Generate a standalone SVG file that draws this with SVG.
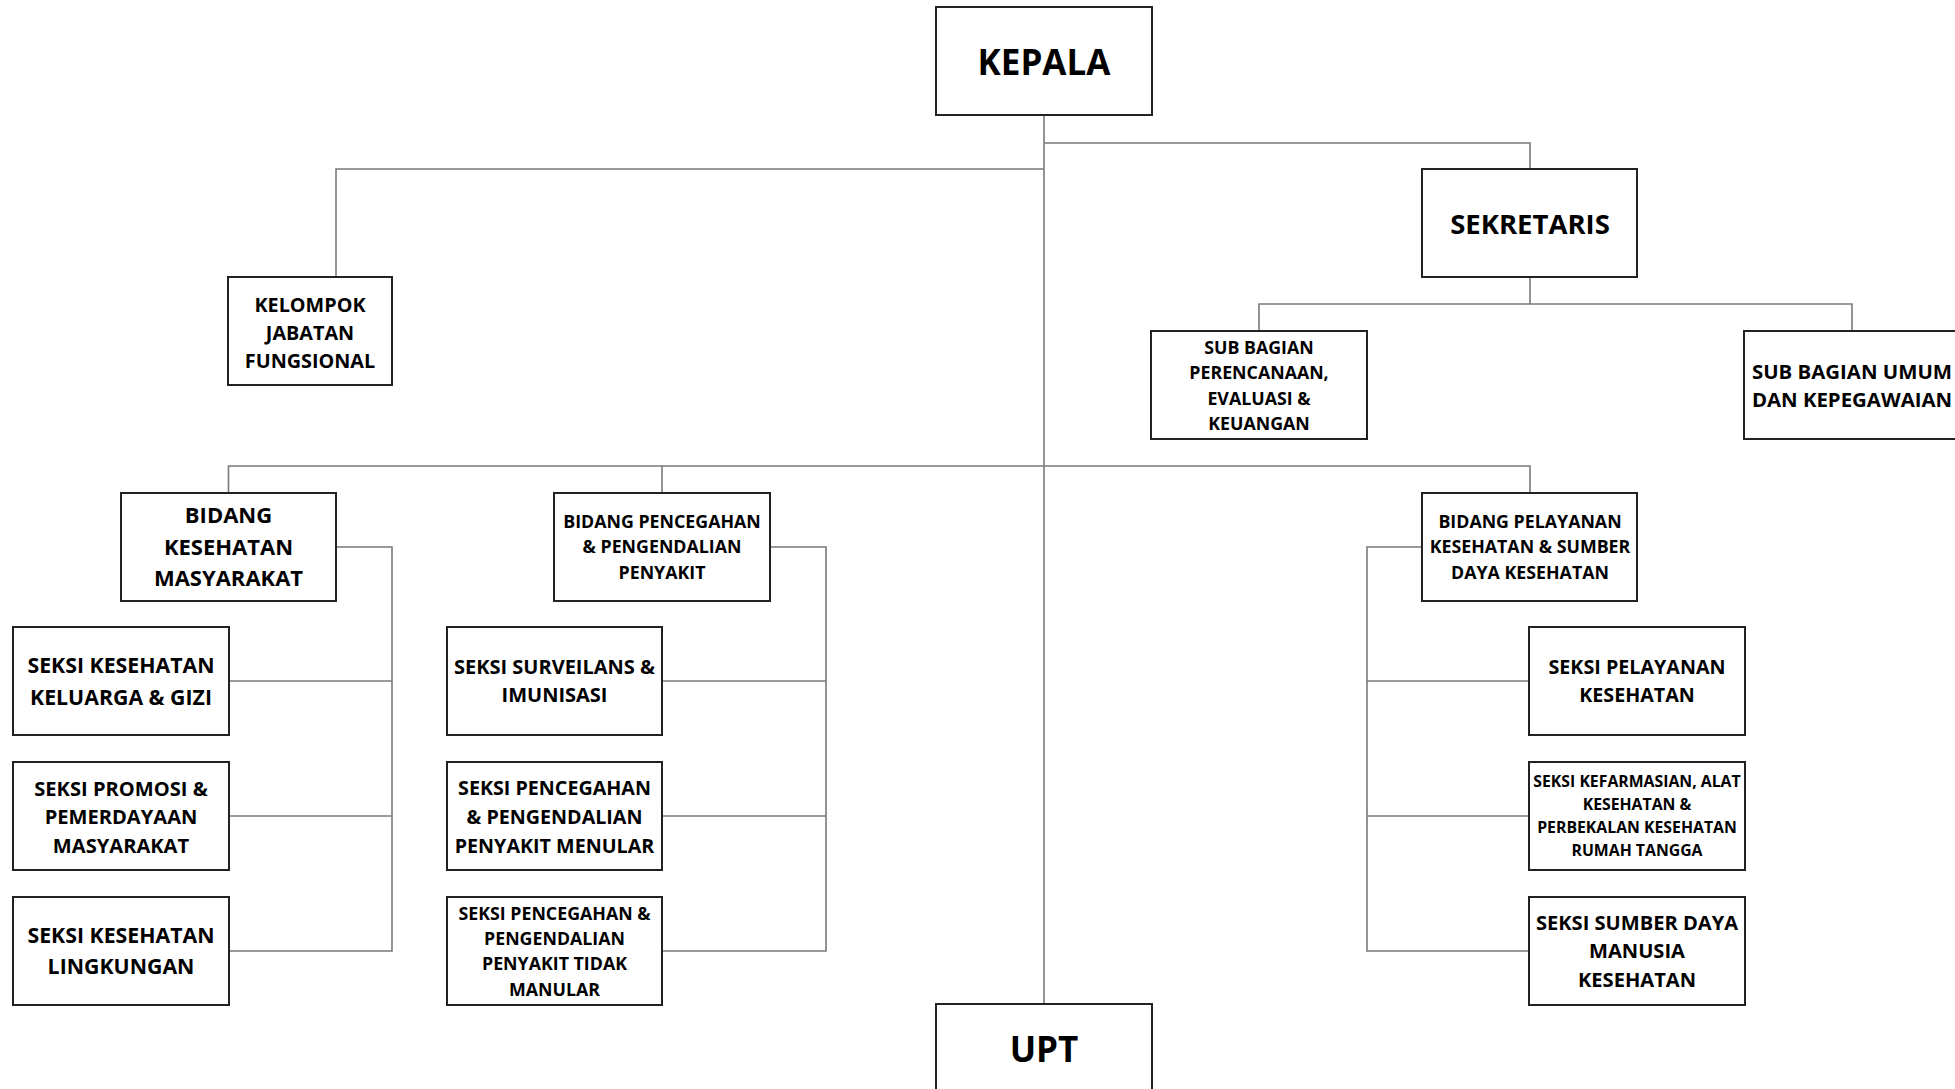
<svg xmlns="http://www.w3.org/2000/svg" width="1955" height="1089" viewBox="0 0 1955 1089">
<style>
.box{fill:#fff;stroke:#222;stroke-width:2}
.con{fill:none;stroke:#7a7a7a;stroke-width:1.6}
text{font-family:"Open Sans","Noto Sans","Liberation Sans",sans-serif;font-weight:700;fill:#000;text-anchor:middle}
</style>
<rect width="1955" height="1089" fill="#fff"/>
<g id="connectors">
<path class="con" d="M1044 115V1004"/>
<path class="con" d="M1044 143H1530V169"/>
<path class="con" d="M1044 169H336V277"/>
<path class="con" d="M1530 277V304"/>
<path class="con" d="M1259 331V304H1852V331"/>
<path class="con" d="M228.5 493V466H1530V493"/>
<path class="con" d="M662 466V493"/>
<path class="con" d="M336 547H392V951H229"/>
<path class="con" d="M229 681H392"/>
<path class="con" d="M229 816H392"/>
<path class="con" d="M770 547H826V951H662"/>
<path class="con" d="M662 681H826"/>
<path class="con" d="M662 816H826"/>
<path class="con" d="M1422 547H1367V951H1529"/>
<path class="con" d="M1367 681H1529"/>
<path class="con" d="M1367 816H1529"/>
</g>
<g id="kepala"><rect class="box" x="936" y="7" width="216" height="108"/><text x="1044" y="75" font-size="35">KEPALA</text></g>
<g id="upt"><rect class="box" x="936" y="1004" width="216" height="100"/><text x="1044" y="1062" font-size="35">UPT</text></g>
<g id="sekretaris"><rect class="box" x="1422" y="169" width="215" height="108"/><text x="1530" y="234" font-size="27.5">SEKRETARIS</text></g>
<g id="kelompok"><rect class="box" x="228" y="277" width="164" height="108"/><text font-size="19.8"><tspan x="310" y="312">KELOMPOK</tspan><tspan x="310" y="340">JABATAN</tspan><tspan x="310" y="368">FUNGSIONAL</tspan></text></g>
<g id="subbag-perencanaan"><rect class="box" x="1151" y="331" width="216" height="108"/><text font-size="17.8"><tspan x="1259" y="354">SUB BAGIAN</tspan><tspan x="1259" y="379">PERENCANAAN,</tspan><tspan x="1259" y="404.5">EVALUASI &amp;</tspan><tspan x="1259" y="430">KEUANGAN</tspan></text></g>
<g id="subbag-umum"><rect class="box" x="1744" y="331" width="216" height="108"/><text font-size="20.4"><tspan x="1852" y="379">SUB BAGIAN UMUM</tspan><tspan x="1852" y="407">DAN KEPEGAWAIAN</tspan></text></g>
<g id="bidang-kesmas"><rect class="box" x="121" y="493" width="215" height="108"/><text font-size="22"><tspan x="228.5" y="523">BIDANG</tspan><tspan x="228.5" y="555">KESEHATAN</tspan><tspan x="228.5" y="586">MASYARAKAT</tspan></text></g>
<g id="bidang-p2p"><rect class="box" x="554" y="493" width="216" height="108"/><text font-size="17.8"><tspan x="662" y="528">BIDANG PENCEGAHAN</tspan><tspan x="662" y="553">&amp; PENGENDALIAN</tspan><tspan x="662" y="579">PENYAKIT</tspan></text></g>
<g id="bidang-yankes"><rect class="box" x="1422" y="493" width="215" height="108"/><text font-size="17.8"><tspan x="1530" y="528">BIDANG PELAYANAN</tspan><tspan x="1530" y="553">KESEHATAN &amp; SUMBER</tspan><tspan x="1530" y="579">DAYA KESEHATAN</tspan></text></g>
<g id="seksi-kesga"><rect class="box" x="13" y="627" width="216" height="108"/><text font-size="21.3"><tspan x="121" y="673">SEKSI KESEHATAN</tspan><tspan x="121" y="705">KELUARGA &amp; GIZI</tspan></text></g>
<g id="seksi-promosi"><rect class="box" x="13" y="762" width="216" height="108"/><text font-size="20.1"><tspan x="121" y="796">SEKSI PROMOSI &amp;</tspan><tspan x="121" y="824">PEMERDAYAAN</tspan><tspan x="121" y="853">MASYARAKAT</tspan></text></g>
<g id="seksi-kesling"><rect class="box" x="13" y="897" width="216" height="108"/><text font-size="21.3"><tspan x="121" y="943">SEKSI KESEHATAN</tspan><tspan x="121" y="974">LINGKUNGAN</tspan></text></g>
<g id="seksi-surveilans"><rect class="box" x="447" y="627" width="215" height="108"/><text font-size="20"><tspan x="554.5" y="674">SEKSI SURVEILANS &amp;</tspan><tspan x="554.5" y="702">IMUNISASI</tspan></text></g>
<g id="seksi-p2pm"><rect class="box" x="447" y="762" width="215" height="108"/><text font-size="19.7"><tspan x="554.5" y="795">SEKSI PENCEGAHAN</tspan><tspan x="554.5" y="824">&amp; PENGENDALIAN</tspan><tspan x="554.5" y="853">PENYAKIT MENULAR</tspan></text></g>
<g id="seksi-p2ptm"><rect class="box" x="447" y="897" width="215" height="108"/><text font-size="17.8"><tspan x="554.5" y="920">SEKSI PENCEGAHAN &amp;</tspan><tspan x="554.5" y="945">PENGENDALIAN</tspan><tspan x="554.5" y="970">PENYAKIT TIDAK</tspan><tspan x="554.5" y="996">MANULAR</tspan></text></g>
<g id="seksi-yankes"><rect class="box" x="1529" y="627" width="216" height="108"/><text font-size="19.7"><tspan x="1637" y="674">SEKSI PELAYANAN</tspan><tspan x="1637" y="702">KESEHATAN</tspan></text></g>
<g id="seksi-farmasi"><rect class="box" x="1529" y="762" width="216" height="108"/><text font-size="15.8"><tspan x="1637" y="787">SEKSI KEFARMASIAN, ALAT</tspan><tspan x="1637" y="810">KESEHATAN &amp;</tspan><tspan x="1637" y="833">PERBEKALAN KESEHATAN</tspan><tspan x="1637" y="856">RUMAH TANGGA</tspan></text></g>
<g id="seksi-sdmk"><rect class="box" x="1529" y="897" width="216" height="108"/><text font-size="20.1"><tspan x="1637" y="930">SEKSI SUMBER DAYA</tspan><tspan x="1637" y="958">MANUSIA</tspan><tspan x="1637" y="987">KESEHATAN</tspan></text></g>
</svg>
